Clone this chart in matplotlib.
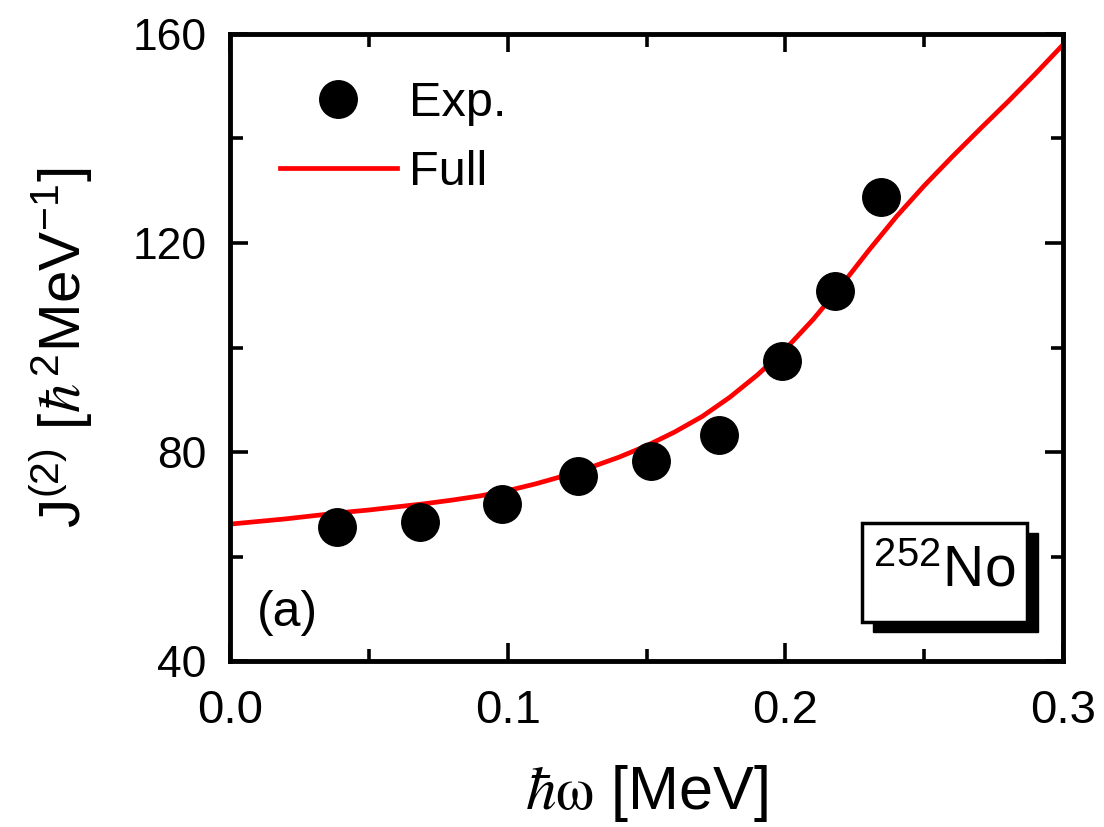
import matplotlib
matplotlib.use("Agg")
import matplotlib.pyplot as plt
from matplotlib.patches import Rectangle

plt.rcParams['font.family'] = ['Liberation Sans', 'DejaVu Sans']
plt.rcParams['mathtext.fontset'] = 'stix'

# experimental J(2) values
exp_omega = [0.0385, 0.0684, 0.098, 0.1253, 0.1516, 0.176, 0.1988, 0.2179, 0.2344]
exp_j2 = [65.6, 66.6, 70.0, 75.4, 78.3, 83.3, 97.4, 110.8, 128.8]

# calculation ("Full")
full_omega = [0.00, 0.01, 0.02, 0.03, 0.04, 0.05, 0.06, 0.07, 0.08, 0.09, 0.10,
              0.11, 0.12, 0.13, 0.14, 0.15, 0.16, 0.17, 0.18, 0.19, 0.20,
              0.21, 0.22, 0.23, 0.24, 0.25, 0.26, 0.27, 0.28, 0.29, 0.30]
full_j2 = [66.2, 66.7, 67.2, 67.8, 68.4, 68.9, 69.5, 70.1, 70.8, 71.6, 72.6,
           73.9, 75.4, 77.1, 79.0, 81.2, 83.8, 86.8, 90.5, 94.8, 99.7,
           105.4, 111.8, 118.6, 125.1, 131.0, 136.5, 141.8, 147.0, 152.4, 158.0]

xticks = [0.0, 0.1, 0.2, 0.3]
yticks = [40, 80, 120, 160]

fig = plt.figure(figsize=(11.04, 8.27), dpi=100)
ax = fig.add_axes([0.2083, 0.2007, 0.7548, 0.7582])

ax.plot(full_omega, full_j2, color='#ff0000', lw=3.4, label='Full', zorder=2,
        solid_joinstyle='round')
ax.plot(exp_omega, exp_j2, 'o', color='black', ms=27, label='Exp.', zorder=3)

ax.set_xlim(0, 0.3)
ax.set_ylim(40, 160)
ax.set_xticks(xticks)
ax.set_xticklabels([f"{t:.1f}" for t in xticks])
ax.set_xticks([0.05, 0.15, 0.25], minor=True)
ax.set_yticks(yticks)
ax.set_yticks([60, 100, 140], minor=True)

for s in ax.spines.values():
    s.set_linewidth(3.5)
ax.tick_params(which='both', direction='in', top=True, right=True, width=2.6)
ax.tick_params(which='major', length=13)
ax.tick_params(which='minor', length=9)
ax.tick_params(axis='x', which='major', labelsize=34, pad=20)
ax.tick_params(axis='y', which='major', labelsize=32, pad=17)

ax.set_xlabel(r"$\hbar\mathrm{\omega}$ [MeV]", fontsize=44, labelpad=22)
ax.set_ylabel(r"J$^{\mathregular{(2)}}$ [$\hbar^{\mathregular{2}}$MeV$^{\mathregular{-1}}$]",
              fontsize=42, labelpad=26)

handles, labels = ax.get_legend_handles_labels()
ax.legend(handles[::-1], labels[::-1], loc='upper left', bbox_to_anchor=(0.06, 0.925),
          frameon=False, fontsize=35, handlelength=2.4, handletextpad=0.25,
          borderpad=0, borderaxespad=0, labelspacing=0.5, numpoints=1)

ax.text(0.032, 0.077, "(a)", transform=ax.transAxes, fontsize=36,
        ha='left', va='center')

# nucleus label box with drop shadow
ax.add_patch(Rectangle((0.772, 0.046), 0.198, 0.158, transform=ax.transAxes,
                       facecolor='black', edgecolor='black', zorder=4))
ax.add_patch(Rectangle((0.759, 0.062), 0.198, 0.158, transform=ax.transAxes,
                       facecolor='white', edgecolor='black', lw=2.5, zorder=5))
ax.text(0.857, 0.142, r"$^{\mathregular{252}}$No", transform=ax.transAxes,
        fontsize=41, ha='center', va='center', zorder=6)

fig.savefig("out.png", dpi=100)
